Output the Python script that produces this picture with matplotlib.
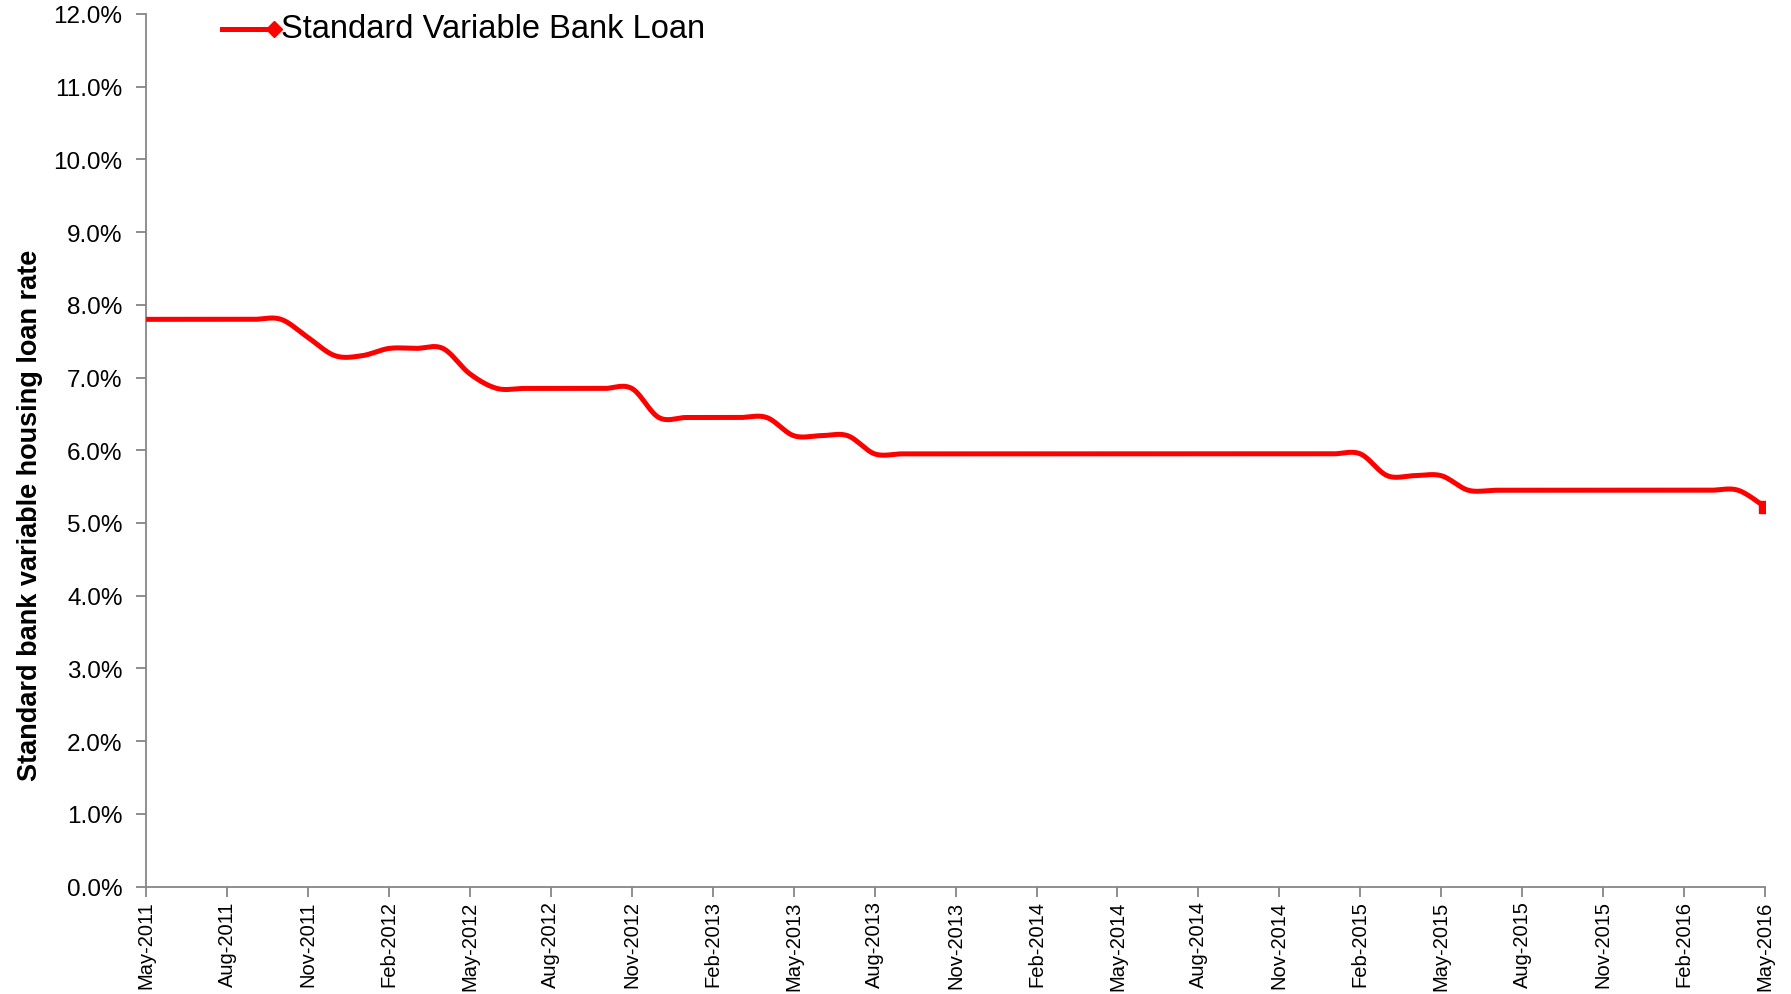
import numpy as np
import matplotlib
matplotlib.use("Agg")
import matplotlib.pyplot as plt
from matplotlib.ticker import FuncFormatter, MultipleLocator

plt.rcParams['font.family'] = ['Liberation Sans', 'DejaVu Sans']

# Monthly data, May-2011 .. May-2016
rates = [7.80, 7.80, 7.80, 7.80, 7.80, 7.80,          # May-Oct 2011
         7.55, 7.30,                                    # Nov-Dec 2011
         7.30, 7.40, 7.40, 7.40,                        # Jan-Apr 2012
         7.05, 6.85, 6.85, 6.85, 6.85, 6.85, 6.85,      # May-Nov 2012
         6.45, 6.45, 6.45, 6.45, 6.45,                  # Dec 2012-Apr 2013
         6.20, 6.20, 6.20,                              # May-Jul 2013
         5.95, 5.95, 5.95, 5.95, 5.95, 5.95, 5.95, 5.95, 5.95, 5.95,
         5.95, 5.95, 5.95, 5.95, 5.95, 5.95, 5.95, 5.95, 5.95,  # Aug 2013-Feb 2015
         5.65, 5.65, 5.65,                              # Mar-May 2015
         5.45, 5.45, 5.45, 5.45, 5.45, 5.45, 5.45, 5.45, 5.45, 5.45, 5.45,  # Jun 2015-Apr 2016
         5.22]                                          # May 2016
tick_labels = ["May-2011", "Aug-2011", "Nov-2011", "Feb-2012", "May-2012", "Aug-2012",
               "Nov-2012", "Feb-2013", "May-2013", "Aug-2013", "Nov-2013", "Feb-2014",
               "May-2014", "Aug-2014", "Nov-2014", "Feb-2015", "May-2015", "Aug-2015",
               "Nov-2015", "Feb-2016", "May-2016"]
series_name = "Standard Variable Bank Loan"
y_title = "Standard bank variable housing loan rate"

x = np.arange(len(rates), dtype=float)
y = np.array(rates)

# Excel-like smoothed line (Catmull-Rom Bezier)
def smooth(xv, yv, n=40):
    P = np.column_stack([xv, yv])
    Pe = np.vstack([P[0], P, P[-1]])
    out = []
    for i in range(len(P) - 1):
        p0, p1, p2, p3 = Pe[i], Pe[i + 1], Pe[i + 2], Pe[i + 3]
        c1 = p1 + (p2 - p0) / 6.0
        c2 = p2 - (p3 - p1) / 6.0
        t = np.linspace(0, 1, n, endpoint=(i == len(P) - 2))[:, None]
        b = ((1 - t) ** 3) * p1 + 3 * ((1 - t) ** 2) * t * c1 + 3 * (1 - t) * t ** 2 * c2 + t ** 3 * p2
        out.append(b)
    B = np.vstack(out)
    return B[:, 0], B[:, 1]

sx, sy = smooth(x, y)

fig = plt.figure(figsize=(17.91, 9.95), dpi=100)
ax = fig.add_axes([0.0816, 0.108, 0.9039, 0.877])

red = "#FF0000"
ax.plot(sx, sy, color=red, lw=3.6, solid_capstyle='butt', zorder=3)
ax.plot(x[-1:], y[-1:], marker='s', ms=8, color=red, lw=0, zorder=4)

ax.set_xlim(0, len(rates) - 1)
ax.set_ylim(0, 12)
ax.yaxis.set_major_locator(MultipleLocator(1))
ax.yaxis.set_major_formatter(FuncFormatter(lambda v, p: f"{v:.1f}%"))
ax.set_xticks(np.arange(0, len(rates), 3))
ax.set_xticklabels(tick_labels, rotation=90, fontsize=14.5)
for lab in ax.get_yticklabels():
    lab.set_fontsize(17.5)

spine_col = "#868686"
for s in ['top', 'right']:
    ax.spines[s].set_visible(False)
for s in ['left', 'bottom']:
    ax.spines[s].set_color(spine_col)
    ax.spines[s].set_linewidth(1.3)
ax.tick_params(axis='both', direction='out', length=7, width=1.3, color=spine_col,
               labelcolor='#000000', pad=3)
ax.tick_params(axis='y', pad=10)

fig.text(0.017, 0.482, y_title, rotation=90, ha='center', va='center',
         fontsize=19.5, fontweight='bold')

# legend (drawn like the Excel legend: line with a diamond at its right end)
ax.plot([0.047, 0.079], [0.983, 0.983], color=red, lw=3.6, transform=ax.transAxes, clip_on=False)
ax.plot([0.079], [0.983], marker='D', ms=8, color=red, transform=ax.transAxes, clip_on=False)
ax.text(0.083, 0.983, series_name, transform=ax.transAxes, ha='left', va='center', fontsize=23.5)

fig.savefig("out.png", dpi=100)
